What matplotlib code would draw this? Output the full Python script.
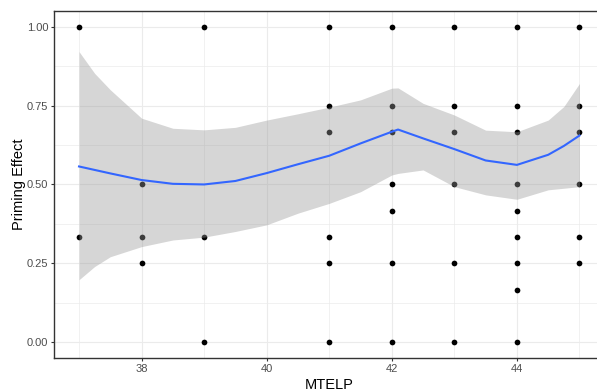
import matplotlib
matplotlib.use("Agg")
import matplotlib.pyplot as plt

plt.rcParams['font.family'] = ['Liberation Sans', 'DejaVu Sans']

# observed points (MTELP score vs priming effect)
point_x = [37, 37,
           38, 38, 38,
           39, 39, 39,
           41, 41, 41, 41, 41, 41,
           42, 42, 42, 42, 42, 42, 42,
           43, 43, 43, 43, 43, 43,
           44, 44, 44, 44, 44, 44, 44, 44, 44,
           45, 45, 45, 45, 45, 45]
point_y = [1.0, 0.333,
           0.5, 0.333, 0.25,
           1.0, 0.333, 0.0,
           1.0, 0.75, 0.667, 0.333, 0.25, 0.0,
           1.0, 0.75, 0.667, 0.5, 0.417, 0.25, 0.0,
           1.0, 0.75, 0.667, 0.5, 0.25, 0.0,
           1.0, 0.75, 0.667, 0.5, 0.417, 0.333, 0.25, 0.167, 0.0,
           1.0, 0.75, 0.667, 0.5, 0.333, 0.25]

# loess smooth
smooth_x = [37, 37.25, 37.5, 38, 38.5, 39, 39.5, 40, 40.5, 41, 41.5,
            42, 42.1, 42.5, 43, 43.5, 44, 44.5, 44.75, 45]
smooth_fit = [0.557, 0.546, 0.535, 0.514, 0.502, 0.500, 0.511, 0.536, 0.564,
              0.591, 0.630, 0.667, 0.674, 0.646, 0.612, 0.576, 0.562, 0.594,
              0.622, 0.655]
smooth_lo = [0.198, 0.240, 0.271, 0.303, 0.324, 0.333, 0.351, 0.372, 0.409,
             0.440, 0.477, 0.530, 0.535, 0.546, 0.493, 0.467, 0.453, 0.483,
             0.488, 0.493]
smooth_hi = [0.921, 0.852, 0.800, 0.710, 0.678, 0.673, 0.681, 0.704, 0.724,
             0.745, 0.768, 0.805, 0.806, 0.757, 0.720, 0.672, 0.667, 0.704,
             0.747, 0.820]

x_ticks = [38, 40, 42, 44]
x_minor = [37, 39, 41, 43, 45]
y_ticks = [0.0, 0.25, 0.5, 0.75, 1.0]
y_labels = ['0.00', '0.25', '0.50', '0.75', '1.00']
y_minor = [0.125, 0.375, 0.625, 0.875]

W, H = 597, 392
fig = plt.figure(figsize=(W / 100, H / 100), dpi=100)
ax = fig.add_axes([54 / W, 34 / H, 550.5 / W, 347.1 / H])

ax.scatter(point_x, point_y, s=17, color='black', linewidths=0, zorder=3)
ax.fill_between(smooth_x, smooth_lo, smooth_hi, color='#999999', alpha=0.4,
                linewidth=0, zorder=4)
ax.plot(smooth_x, smooth_fit, color='#3366FF', linewidth=1.5, zorder=5)

ax.set_xlim(36.6, 45.4)
ax.set_ylim(-0.05, 1.05)
ax.set_xticks(x_ticks)
ax.set_xticks(x_minor, minor=True)
ax.set_yticks(y_ticks)
ax.set_yticklabels(y_labels)
ax.set_yticks(y_minor, minor=True)

ax.set_axisbelow(True)
ax.grid(True, which='major', color='#EBEBEB', linewidth=0.8)
ax.grid(True, which='minor', color='#EBEBEB', linewidth=0.5)

for s in ax.spines.values():
    s.set_color('#333333')
    s.set_linewidth(1.0)

ax.tick_params(which='major', length=2.2, width=0.8, color='#333333',
               labelsize=8, labelcolor='#4D4D4D', pad=2)
ax.tick_params(which='minor', length=0)

ax.set_xlabel('MTELP', fontsize=10.5, color='black')
ax.xaxis.label.set_va('baseline')
ax.xaxis.set_label_coords(0.5, -0.088)
ax.set_ylabel('Priming Effect', fontsize=10.5, color='black')
ax.yaxis.label.set_va('center')
ax.yaxis.set_label_coords(-0.064, 0.5)

fig.savefig('out.png', dpi=100)
